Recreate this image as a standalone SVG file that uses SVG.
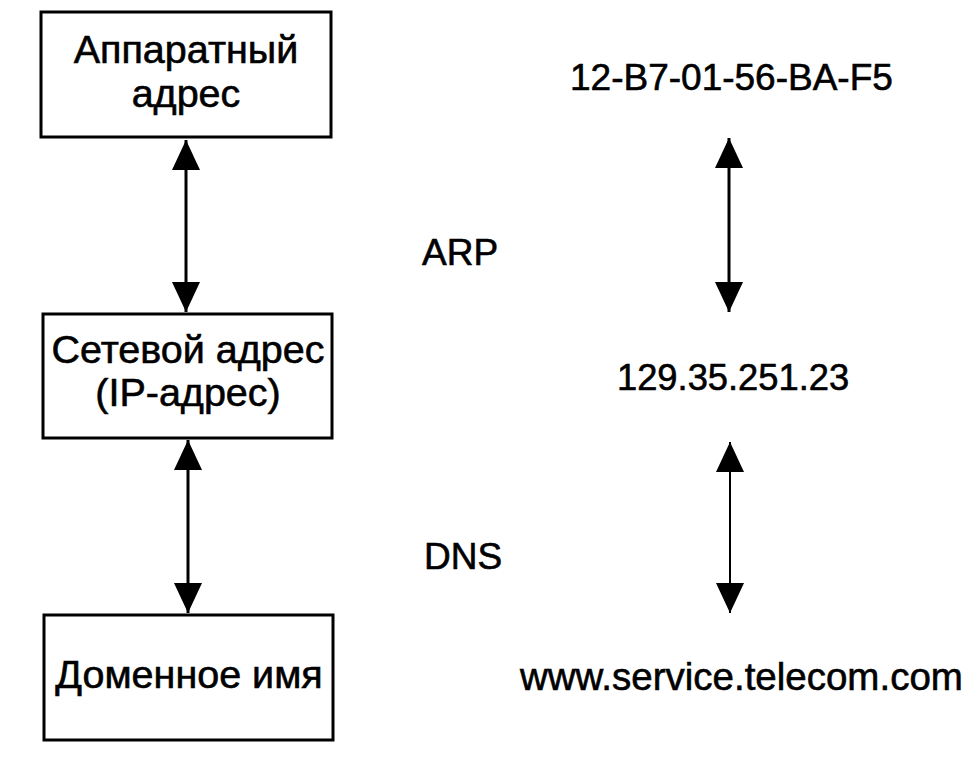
<svg xmlns="http://www.w3.org/2000/svg" width="980" height="761" viewBox="0 0 980 761">
<style>
.box{fill:#fff;stroke:#000;stroke-width:3}
.t{font-family:"Liberation Sans",Arial,sans-serif;font-size:37px;fill:#000;stroke:#000;stroke-width:0.6}
.b{font-size:39.5px}
.c{text-anchor:middle}
.line{stroke:#000;stroke-width:3;fill:none}
.thin{stroke:#000;stroke-width:2;fill:none}
.head{fill:#000}
</style>
<defs>
<marker id="ah" viewBox="0 0 30 28" refX="30" refY="14" markerWidth="30" markerHeight="28" markerUnits="userSpaceOnUse" orient="auto-start-reverse">
<path d="M0,0 L30,14 L0,28 Z" class="head"/>
</marker>
</defs>
<rect width="980" height="761" fill="#fff"/>
<g id="node-hw">
<rect class="box" x="41" y="12" width="290" height="125"/>
<text class="t b c" x="186" y="63">Аппаратный</text>
<text class="t b c" x="186" y="107">адрес</text>
</g>
<g id="node-ip">
<rect class="box" x="43" y="314" width="289" height="124"/>
<text class="t b c" x="188" y="363">Сетевой адрес</text>
<text class="t b c" x="188" y="406">(IP-адрес)</text>
</g>
<g id="node-dns">
<rect class="box" x="44" y="615" width="289" height="125"/>
<text class="t b c" x="189" y="688">Доменное имя</text>
</g>
<g id="node-mac"><text class="t" x="570" y="90">12-B7-01-56-BA-F5</text></g>
<g id="node-ipval"><text class="t" x="617" y="390" style="font-size:36.3px">129.35.251.23</text></g>
<g id="node-url"><text class="t" x="520" y="690" style="font-size:38.5px">www.service.telecom.com</text></g>
<g id="label-arp"><text class="t" x="422" y="265">ARP</text></g>
<g id="label-dns"><text class="t" x="424" y="569">DNS</text></g>
<g id="connectors">
<line class="line" x1="186" y1="140" x2="186" y2="312" marker-start="url(#ah)" marker-end="url(#ah)"/>
<line class="line" x1="188" y1="440" x2="188" y2="613" marker-start="url(#ah)" marker-end="url(#ah)"/>
<line class="line" x1="729" y1="138" x2="729" y2="312" marker-start="url(#ah)" marker-end="url(#ah)"/>
<line class="thin" x1="730" y1="442" x2="730" y2="613" marker-start="url(#ah)" marker-end="url(#ah)"/>
</g>
</svg>
